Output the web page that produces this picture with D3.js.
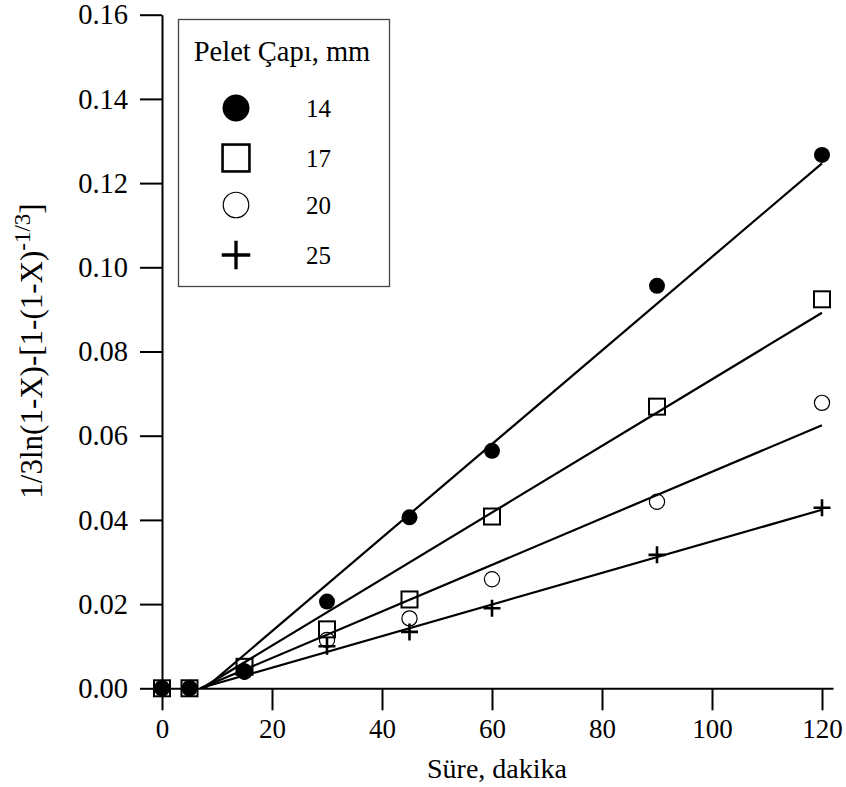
<!DOCTYPE html>
<html>
<head>
<meta charset="utf-8">
<script src="https://cdn.jsdelivr.net/npm/d3@7"></script>
<style>
  html, body { margin: 0; padding: 0; background: #fff; }
  svg text { font-family: "Liberation Serif", "Times New Roman", serif; fill: #000; }
</style>
</head>
<body>
<svg id="chart" width="846" height="787"></svg>
<script>
// ---- data ----
const times = [0, 5, 15, 30, 45, 60, 90, 120];
const seriesNames = ["14", "17", "20", "25"];
const values14 = [0, 0, 0.0039, 0.0206, 0.0406, 0.0564, 0.0956, 0.1267];
const values17 = [0, 0, 0.0051, 0.0140, 0.0211, 0.0408, 0.0669, 0.0924];
const values20 = [0, 0, 0.0040, 0.0115, 0.0166, 0.0259, 0.0443, 0.0678];
const values25 = [0, 0, 0.0040, 0.0100, 0.0134, 0.0190, 0.0317, 0.0429];
// fitted lines: [start time, start value, end time, end value]
const fit14 = [7.8, 0, 120, 0.1247];
const fit17 = [7.2, 0, 120, 0.0892];
const fit20 = [7.0, 0, 120, 0.0625];
const fit25 = [6.9, 0, 120, 0.0424];
const xTicks = [0, 20, 40, 60, 80, 100, 120];
const yTicks = [0, 0.02, 0.04, 0.06, 0.08, 0.10, 0.12, 0.14, 0.16];
const xTitle = "Süre, dakika";
const yTitleMain = "1/3ln(1-X)-[1-(1-X)";
const yTitleSup = "-1/3";
const yTitleEnd = "]";
const legendTitle = "Pelet Çapı, mm";

const svg = d3.select("#chart");
const x = d3.scaleLinear().domain([0, 122]).range([162, 833]);
const y = d3.scaleLinear().domain([0, 0.16]).range([688.3, 14.7]);

// axes
const gx = svg.append("g").attr("transform", `translate(0,${y(0)})`)
  .call(d3.axisBottom(x).tickValues(xTicks).tickFormat(d3.format("d"))
    .tickSize(22).tickSizeOuter(0).tickPadding(9));
const gy = svg.append("g").attr("transform", `translate(${x(0)},0)`)
  .call(d3.axisLeft(y).tickValues(yTicks).tickFormat(d3.format(".2f"))
    .tickSize(22).tickSizeOuter(0).tickPadding(12));
[gx, gy].forEach(g => {
  g.attr("font-family", null);
  g.selectAll("path.domain").attr("stroke", "#000").attr("stroke-width", 2);
  g.selectAll(".tick line").attr("stroke", "#000").attr("stroke-width", 2);
  g.selectAll(".tick text").attr("fill", "#000");
});
gx.selectAll(".tick text").attr("font-size", 27);
gy.selectAll(".tick text").attr("font-size", 28.5);

// axis titles
svg.append("text").attr("x", 497).attr("y", 778)
  .attr("text-anchor", "middle").attr("font-size", 28).text(xTitle);

const yt = svg.append("text")
  .attr("transform", `translate(42,351) rotate(-90)`)
  .attr("text-anchor", "middle").attr("font-size", 31);
yt.append("tspan").text(yTitleMain);
yt.append("tspan").attr("dy", -12).attr("font-size", 23).text(yTitleSup);
yt.append("tspan").attr("dy", 12).text(yTitleEnd);

// fit lines
const fits = [fit14, fit17, fit20, fit25];
svg.append("g").selectAll("line").data(fits).join("line")
  .attr("x1", d => x(d[0])).attr("y1", d => y(d[1]))
  .attr("x2", d => x(d[2])).attr("y2", d => y(d[3]))
  .attr("stroke", "#000").attr("stroke-width", 2.2);

// markers
function drawMarker(g, type, cx, cy, s) {
  if (type === "14") {
    g.append("circle").attr("cx", cx).attr("cy", cy).attr("r", 8 * s).attr("fill", "#000");
  } else if (type === "17") {
    const h = 8 * s;
    g.append("rect").attr("x", cx - h).attr("y", cy - h).attr("width", 2 * h).attr("height", 2 * h)
      .attr("fill", "none").attr("stroke", "#000").attr("stroke-width", 2 * Math.sqrt(s));
  } else if (type === "20") {
    g.append("circle").attr("cx", cx).attr("cy", cy).attr("r", 7.6 * s)
      .attr("fill", "none").attr("stroke", "#000").attr("stroke-width", 1.2);
  } else {
    const h = 8.5 * s;
    g.append("path").attr("d", `M${cx - h},${cy}H${cx + h}M${cx},${cy - h}V${cy + h}`)
      .attr("stroke", "#000").attr("stroke-width", 2.6 * Math.sqrt(s)).attr("fill", "none");
  }
}
const seriesValues = { "14": values14, "17": values17, "20": values20, "25": values25 };
const mg = svg.append("g");
["17", "20", "25", "14"].forEach(name => {
  seriesValues[name].forEach((v, i) => drawMarker(mg, name, x(times[i]), y(v), 1));
});

// legend
const lg = svg.append("g");
lg.append("rect").attr("x", 178.5).attr("y", 19.5).attr("width", 211).attr("height", 267)
  .attr("fill", "#fff").attr("stroke", "#444").attr("stroke-width", 1.3);
lg.append("text").attr("x", 282).attr("y", 61).attr("text-anchor", "middle")
  .attr("font-size", 28.5).text(legendTitle);
const legendRowY = [108, 158, 205, 255];
seriesNames.forEach((name, i) => {
  drawMarker(lg, name, 236, legendRowY[i], 1.68);
  lg.append("text").attr("x", 306).attr("y", legendRowY[i] + 9).attr("font-size", 25).text(name);
});
</script>
</body>
</html>
